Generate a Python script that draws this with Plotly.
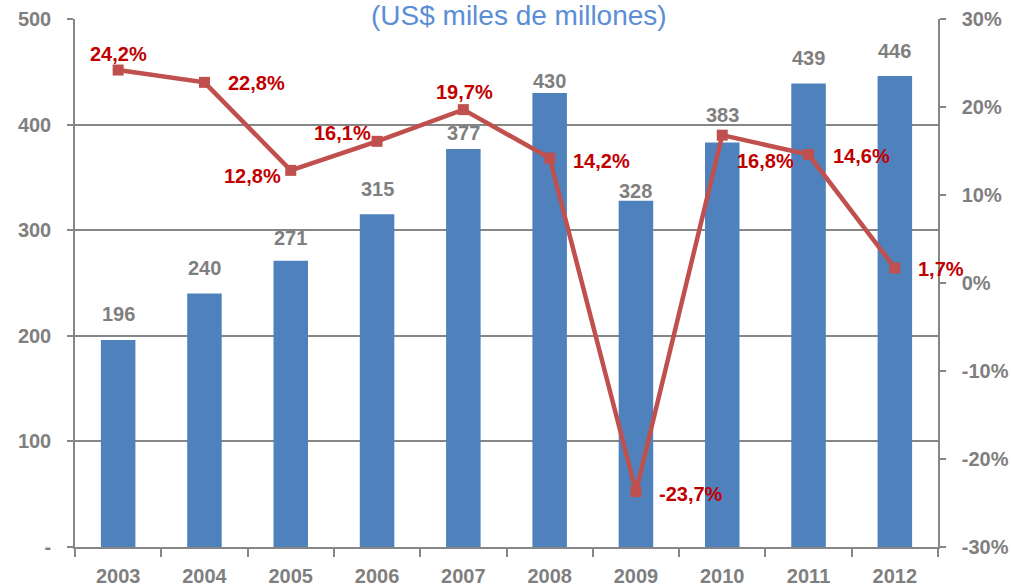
import plotly.graph_objects as go

years = ["2003", "2004", "2005", "2006", "2007", "2008", "2009", "2010", "2011", "2012"]
values = [196, 240, 271, 315, 377, 430, 328, 383, 439, 446]
growth = [24.2, 22.8, 12.8, 16.1, 19.7, 14.2, -23.7, 16.8, 14.6, 1.7]
# label placement offsets in pixels (style only)
bar_label_dy = [26, 26, 23, 25, 16, 12, 10, 28, 25, 25]
growth_label_dx = [0, 52, -38, -35, 1, 52, 55, 43, 53, 46]
growth_label_dy = [16, -1, -6, 8, 18, -3, -2, -26, -1, -1]
left_ticks = [0, 100, 200, 300, 400, 500]
left_ticktext = ["-", "100", "200", "300", "400", "500"]
right_ticks = [-30, -20, -10, 0, 10, 20, 30]
right_ticktext = ["-30%", "-20%", "-10%", "0%", "10%", "20%", "30%"]
title_text = "(US$ miles de millones)"

FONT = "Liberation Sans, Arial"
BOLD = "<b>{}</b>"
GRAY = "#7f7f7f"
AXIS = "#868686"

fig = go.Figure()
fig.add_trace(go.Bar(
    x=years, y=values, marker=dict(color="#4f81bd", line=dict(width=0)), width=0.4,
    showlegend=False, hoverinfo="x+y",
))
fig.add_trace(go.Scatter(
    x=years, y=growth, yaxis="y2", mode="lines+markers",
    line=dict(color="#c0504d", width=4.5),
    marker=dict(symbol="square", size=11, color="#c0504d"),
    cliponaxis=False, showlegend=False,
))

annotations = []
# on a category axis, annotation x is the category's serial index
for i, (v, dy) in enumerate(zip(values, bar_label_dy)):
    annotations.append(dict(
        x=i, y=v, xref="x", yref="y", text=BOLD.format(v), showarrow=False,
        yanchor="middle", xanchor="center", yshift=dy,
        font=dict(family=FONT, size=20, color=GRAY),
    ))
for i, (g, dx, dy) in enumerate(zip(growth, growth_label_dx, growth_label_dy)):
    annotations.append(dict(
        x=i, y=g, xref="x", yref="y2", text=BOLD.format(f"{g:.1f}%".replace(".", ",")),
        showarrow=False, yanchor="middle", xanchor="center", xshift=dx, yshift=dy,
        font=dict(family=FONT, size=20, color="#c00000"),
    ))
annotations.append(dict(
    text=title_text, x=0.515, xref="paper", y=1.0, yref="paper", yanchor="middle",
    yshift=4, showarrow=False,
    font=dict(family="Liberation Sans, Arial", size=28, color="#5b8ed6"),
))

fig.update_layout(
    width=1011, height=587,
    margin=dict(l=75, r=73, t=19, b=40),
    paper_bgcolor="white", plot_bgcolor="white",
    font=dict(family=FONT, color=GRAY),
    xaxis=dict(
        type="category", categoryorder="array", categoryarray=years,
        range=[-0.5, len(years) - 0.5],
        showline=True, linecolor=AXIS, linewidth=1.5,
        ticks="outside", tickcolor=AXIS, ticklen=8, tickwidth=1.5, tickson="boundaries",
        tickfont=dict(family=FONT, size=20, color=GRAY),
        tickvals=years, ticktext=[BOLD.format(y) for y in years],
        ticklabelstandoff=10,
        showgrid=False, automargin=False,
    ),
    yaxis=dict(
        range=[0, 500], tickvals=left_ticks, ticktext=[BOLD.format(t) for t in left_ticktext],
        showline=True, linecolor=AXIS, linewidth=1.5,
        ticks="outside", tickcolor=AXIS, ticklen=6, tickwidth=1.5,
        showgrid=True, gridcolor=AXIS, gridwidth=1.5,
        tickfont=dict(family=FONT, size=20, color=GRAY),
        ticklabelstandoff=12,
        zeroline=False, automargin=False,
    ),
    yaxis2=dict(
        range=[-30, 30], tickvals=right_ticks, ticktext=[BOLD.format(t) for t in right_ticktext],
        overlaying="y", side="right",
        showline=True, linecolor=AXIS, linewidth=1.5,
        ticks="outside", tickcolor=AXIS, ticklen=6, tickwidth=1.5,
        showgrid=False, zeroline=False, automargin=False,
        ticklabelstandoff=12,
        tickfont=dict(family=FONT, size=20, color=GRAY),
    ),
    annotations=annotations,
)

fig.write_html("out.html", config={"displayModeBar": False},
               post_script="document.body.style.margin='0px';")
